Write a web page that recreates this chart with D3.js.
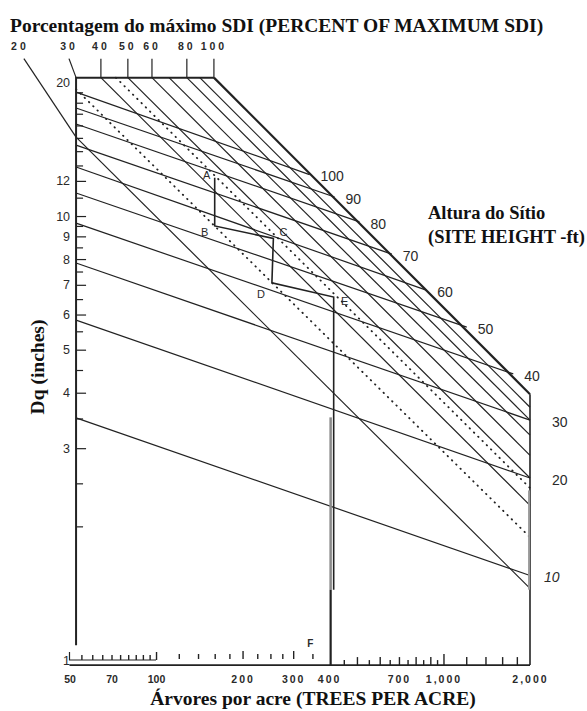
<!DOCTYPE html>
<html lang="pt">
<head>
<meta charset="utf-8">
<title>Diagrama de manejo da densidade</title>
<script src="https://d3js.org/d3.v7.min.js"></script>
<style>
  body { margin: 0; background: #fff; }
  .serif { font-family: "Liberation Serif", "Times New Roman", serif; font-weight: bold; fill: #111; }
  .num { font-family: "Liberation Sans", Arial, sans-serif; fill: #2a2a2a; }
  .ln { fill: none; stroke: #222; stroke-width: 1.2; }
</style>
</head>
<body>
<script>
var w = 587, h = 711;

// bordas do diagrama (arvores por acre, Dq em polegadas)
var tpaLeft = 52.7, tpaRight = 2000;
var dqTop = 20.5, dqBase = 0.974, dqAxisEnd = 1.08;

// eixo X
var tpaLabels = [50, 70, 100, 200, 300, 400, 700, 1000, 2000];
var tpaComb = [55, 60, 65, 70, 75, 80, 85, 90, 95, 100];
var tpaMid = [120, 140, 160, 180, 200, 225, 250, 275, 300, 350];
var tpaHigh = [450, 500, 550, 600, 650, 700, 750, 800, 850, 900, 950, 1000, 1200, 1400, 1600, 1800];

// eixo Y
var dqLabels = [1, 3, 4, 5, 6, 7, 8, 9, 10, 12, 20];
var dqMajor = [3, 4, 5, 6, 7, 8, 9, 10, 12];
var dqMinor = [2, 2.5, 3.5, 4.5, 5.5, 6.5, 7.5, 8.5, 9.5, 11, 13, 14, 15, 16, 17, 18, 19];

// linhas de % do SDI maximo
var sdiPct = [100, 90, 80, 70, 60, 50, 45, 40, 30, 20];
var sdiFrom = [[159, 20.5], [142, 20.5], [128, 20.5], [111, 20.5], [96.8, 20.5], [79.8, 20.5], [72.5, 20.5], [64.3, 20.5], [52.7, 19.3], [52.7, 15.06]];
var sdiTo = [[2000, 3.97], [2000, 3.71], [2000, 3.47], [2000, 3.21], [2000, 2.89], [2000, 2.57], [2000, 2.44], [2000, 2.23], [2000, 1.89], [2000, 1.45]];
var sdiDotted = [45, 30];

// escala superior de %
var topPct = [20, 30, 40, 50, 60, 80, 100];
var topTickTpa = [34.7, 49.8, 64.3, 79.8, 96.8, 128, 159];
var topTickEnd = [[52.7, 15.06], [52.7, 20.5], [64.3, 20.5], [79.8, 20.5], [96.8, 20.5], [128, 20.5], [159, 20.5]];

// altura do sitio (ft)
var siteHt = [100, 90, 80, 70, 60, 50, 40, 30, 20, 10];
var siteLeftDq = [19.02, 17.51, 16.12, 14.45, 12.9, 11.27, 9.64, 7.84, 5.83, 3.51];
var siteEnd = [[342, 12.4], [418, 11.04], [510, 9.7], [661, 8.21], [871, 6.81], [1205, 5.62], [1749, 4.41], [2000, 3.47], [2000, 2.57], [2000, 1.55]];

// trajetoria de manejo A-E
var pathNames = ["A", "B", "C", "D", "E"];
var pathTpa = [160, 160, 256, 253, 415];
var pathDq = [12.2, 9.5, 8.9, 7.07, 6.57];
var fTpa = 350;

var svg = d3.select("body").append("svg")
  .attr("width", w)
  .attr("height", h);

var x = d3.scaleLog().domain([50, 2000]).range([69.5, 530]);
var y = d3.scaleLog().domain([1, 20]).range([660, 82.4]);
var line = d3.line()
  .x(function(d) { return x(d[0]); })
  .y(function(d) { return y(d[1]); });

// titulos
svg.append("text")
  .attr("class", "serif")
  .attr("x", 10)
  .attr("y", 32)
  .style("font-size", "19.5px")
  .text("Porcentagem do máximo SDI (PERCENT OF MAXIMUM SDI)");

svg.append("text")
  .attr("class", "serif")
  .attr("x", 428)
  .attr("y", 219)
  .style("font-size", "18.5px")
  .text("Altura do Sítio");
svg.append("text")
  .attr("class", "serif")
  .attr("x", 428)
  .attr("y", 243)
  .style("font-size", "18.5px")
  .text("(SITE HEIGHT -ft)");

svg.append("text")
  .attr("class", "serif")
  .attr("text-anchor", "middle")
  .attr("transform", "translate(44,367)rotate(-90)")
  .style("font-size", "19.5px")
  .text("Dq (inches)");

svg.append("text")
  .attr("class", "serif")
  .attr("text-anchor", "middle")
  .attr("x", 313)
  .attr("y", 705)
  .style("font-size", "19.5px")
  .text("Árvores por acre (TREES PER ACRE)");

// linhas de altura do sitio
svg.selectAll(".site")
  .data(siteHt)
  .enter().append("path")
  .attr("class", "ln site")
  .attr("d", function(d, i) { return line([[tpaLeft, siteLeftDq[i]], siteEnd[i]]); });

svg.selectAll(".siteLbl")
  .data(siteHt)
  .enter().append("text")
  .attr("class", "num siteLbl")
  .attr("x", function(d, i) { return siteEnd[i][0] >= tpaRight ? x(tpaRight) + (d == 10 ? 14 : 22) : x(siteEnd[i][0]) + 11; })
  .attr("y", function(d, i) { return y(siteEnd[i][1]) + 2; })
  .attr("dy", "0.35em")
  .style("font-size", "14px")
  .style("font-style", function(d) { return d == 10 ? "italic" : "normal"; })
  .text(function(d) { return d; });

// linhas de % SDI
svg.selectAll(".sdi")
  .data(sdiPct)
  .enter().append("path")
  .attr("class", "ln sdi")
  .attr("d", function(d, i) { return line([sdiFrom[i], sdiTo[i]]); })
  .style("stroke-width", function(d) { return d == 100 ? 2.2 : (sdiDotted.indexOf(d) >= 0 ? 1.8 : 1.2); })
  .style("stroke-dasharray", function(d) { return sdiDotted.indexOf(d) >= 0 ? "0.5,5.5" : null; })
  .style("stroke-linecap", function(d) { return sdiDotted.indexOf(d) >= 0 ? "round" : null; });

// escala superior
svg.selectAll(".topTick")
  .data(topPct)
  .enter().append("path")
  .attr("class", "ln topTick")
  .attr("d", function(d, i) {
    return "M" + x(topTickTpa[i]) + "," + (y(dqTop) - 19) + "L" + x(topTickEnd[i][0]) + "," + y(topTickEnd[i][1]);
  });

svg.selectAll(".topLbl")
  .data(topPct)
  .enter().append("text")
  .attr("class", "num topLbl")
  .attr("x", function(d, i) { return x(topTickTpa[i]) - (d == 20 ? 4 : 0); })
  .attr("y", 50)
  .attr("text-anchor", "middle")
  .style("font-size", "10.5px")
  .style("font-weight", "bold")
  .style("letter-spacing", "3px")
  .text(function(d) { return d; });

// moldura
svg.append("path").attr("class", "ln")
  .style("stroke-width", 2)
  .attr("d", line([[tpaLeft, dqAxisEnd], [tpaLeft, dqTop], sdiFrom[0]]));
svg.append("path").attr("class", "ln")
  .style("stroke-width", 1.6)
  .attr("d", line([sdiTo[0], [tpaRight, dqBase]]));
svg.append("path").attr("class", "ln")
  .style("stroke", "#999").style("stroke-width", 2)
  .attr("d", line([[1985, 2.41], [1985, 1.44]]));
svg.append("path").attr("class", "ln")
  .style("stroke-width", 1.6)
  .attr("d", line([[50, dqBase], [tpaRight, dqBase]]));

// eixo Y
var gy = svg.append("g").attr("class", "num")
  .attr("transform", "translate(" + x(tpaLeft) + ",0)");
gy.append("g")
  .call(d3.axisLeft(y).tickValues(dqMajor).tickSize(-10).tickFormat(""));
gy.append("g")
  .call(d3.axisLeft(y).tickValues(dqMinor).tickSize(-7).tickFormat(""));
gy.append("g")
  .call(d3.axisLeft(y).tickValues(dqLabels).tickSize(0).tickPadding(6).tickFormat(d3.format("d")));
gy.selectAll(".domain").remove();
gy.selectAll("line").attr("stroke", "#222").attr("stroke-width", 1.2);
gy.selectAll("text").style("font-size", "12.5px").style("fill", "#2a2a2a")
  .style("font-family", "\"Liberation Sans\", Arial, sans-serif");

// eixo X: pente 50-100, marcas 120-350, marcas 450-1800
var gx = svg.append("g");
gx.append("g")
  .attr("transform", "translate(0," + y(1) + ")")
  .call(d3.axisBottom(x).tickValues(tpaComb).tickSize(-5).tickFormat(""))
  .select(".domain").attr("d", "M" + x(50) + ",-8V0H" + x(100));
gx.append("g")
  .attr("transform", "translate(0," + (y(1) - 1) + ")")
  .call(d3.axisBottom(x).tickValues(tpaMid).tickSize(-6).tickFormat(""))
  .select(".domain").remove();
gx.append("g")
  .attr("transform", "translate(0," + y(dqBase) + ")")
  .call(d3.axisBottom(x).tickValues(tpaHigh)
    .tickSize(-6).tickFormat(""))
  .select(".domain").remove();
gx.selectAll("line")
  .attr("stroke", "#222").attr("stroke-width", 1.4)
  .attr("y2", function(d) { return d == 1000 ? -11 : (d >= 1200 || d % 100 == 0 ? -8 : -5); });
gx.selectAll("path").attr("stroke", "#222").attr("stroke-width", 1.2).attr("fill", "none");

var gl = svg.append("g")
  .attr("transform", "translate(0," + y(dqBase) + ")")
  .call(d3.axisBottom(x).tickValues(tpaLabels).tickSize(0).tickPadding(10)
    .tickFormat(function(d) { return d >= 1000 ? d3.format(",")(d) : d; }));
gl.select(".domain").remove();
gl.selectAll("text")
  .style("font-family", "\"Liberation Sans\", Arial, sans-serif")
  .style("font-size", "10.5px").style("font-weight", "bold").style("fill", "#2a2a2a")
  .style("letter-spacing", function(d) { return d >= 200 ? "2px" : "0px"; });

// trajetoria A-E-F
var pts = pathTpa.map(function(t, i) { return [t, pathDq[i]]; });
svg.append("path").attr("class", "ln")
  .style("stroke-width", 1.6)
  .attr("d", line(pts.concat([[pathTpa[4], 1.44]])));
svg.append("path").attr("class", "ln")
  .style("stroke", "#8a8a8a").style("stroke-width", 2.5)
  .attr("d", line([[405, 3.52], [405, 1.44]]));
svg.append("path").attr("class", "ln")
  .style("stroke-width", 2.2)
  .attr("d", line([[405, 1.44], [405, dqBase]]));

var lblOff = [[-8, -3], [-10, 6], [10, -6], [-11, 11], [11, 4]];
svg.selectAll(".ptLbl")
  .data(pathNames)
  .enter().append("text")
  .attr("class", "num ptLbl")
  .attr("x", function(d, i) { return x(pathTpa[i]) + lblOff[i][0]; })
  .attr("y", function(d, i) { return y(pathDq[i]) + lblOff[i][1]; })
  .attr("text-anchor", "middle")
  .attr("dy", "0.35em")
  .style("font-size", "11px")
  .text(function(d) { return d; });

svg.append("text")
  .attr("class", "num")
  .attr("x", x(fTpa) - 2)
  .attr("y", y(1) - 13)
  .attr("text-anchor", "middle")
  .style("font-size", "10px")
  .style("font-weight", "bold")
  .text("F");
</script>
</body>
</html>
